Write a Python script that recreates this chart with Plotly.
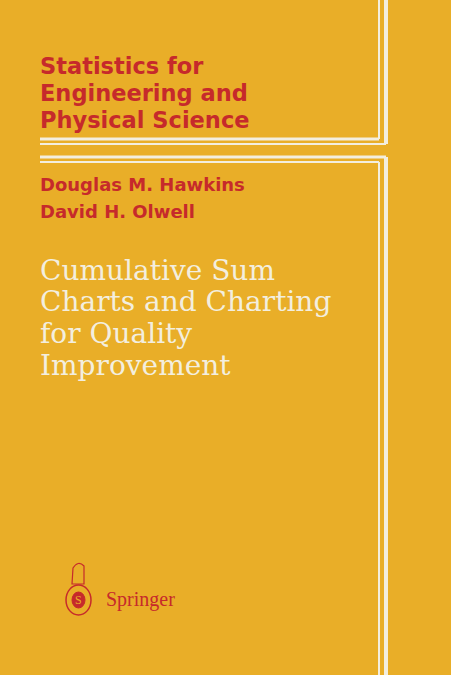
import plotly.graph_objects as go

W, H = 451, 675
BG = "#E9AE28"
RED = "#C62A2B"
CREAM = "#F3EEDF"

series_lines = ["Statistics for", "Engineering and", "Physical Science"]
series_y = [66, 93, 120]

authors = ["Douglas M. Hawkins", "David H. Olwell"]
authors_y = [184, 211]

title_lines = ["Cumulative Sum", "Charts and Charting", "for Quality", "Improvement"]
title_y = [270, 301, 333, 365]

publisher = "Springer"

fig = go.Figure()

# -----------------------
# frame lines
# -----------------------
def seg(x0, y0, x1, y1, w):
    fig.add_shape(type="line", x0=x0, y0=y0, x1=x1, y1=y1, xref="x", yref="y",
                  line=dict(color=CREAM, width=w))

seg(379, 0, 379, 139, 2)
seg(40, 139, 379, 139, 3)
seg(386, 0, 386, 144, 4)
seg(40, 144, 386, 144, 2)
seg(40, 157, 386, 157, 3)
seg(386, 157, 386, H, 4)
seg(40, 162, 379, 162, 2)
seg(379, 162, 379, H, 2)

# -----------------------
# texts
# -----------------------
for t, y in zip(series_lines, series_y):
    fig.add_annotation(x=38, y=y, text="<b>" + t + "</b>", showarrow=False,
                       xanchor="left", yanchor="middle",
                       font=dict(family="DejaVu Sans", size=22.5, color=RED))

for t, y in zip(authors, authors_y):
    fig.add_annotation(x=38, y=y, text="<b>" + t + "</b>", showarrow=False,
                       xanchor="left", yanchor="middle",
                       font=dict(family="DejaVu Sans", size=18, color=RED))

for t, y in zip(title_lines, title_y):
    fig.add_annotation(x=38, y=y, text=t, showarrow=False,
                       xanchor="left", yanchor="middle",
                       font=dict(family="DejaVu Serif", size=28, color=CREAM))

# springer logo (rough)
fig.add_shape(type="circle", x0=66, y0=585, x1=91, y1=615, xref="x", yref="y",
              line=dict(color=RED, width=1.5))
fig.add_shape(type="circle", x0=72, y0=592, x1=85, y1=608, xref="x", yref="y",
              fillcolor=RED, line=dict(color=RED, width=1))
fig.add_shape(type="path", path="M 72 584 L 73 568 Q 78 560 84 566 L 84 584 Z",
              xref="x", yref="y", line=dict(color=RED, width=1.2))
fig.add_annotation(x=78.5, y=600, text="S", showarrow=False,
                   font=dict(family="Liberation Serif", size=12, color=BG))
fig.add_annotation(x=104, y=599, text=publisher, showarrow=False,
                   xanchor="left", yanchor="middle",
                   font=dict(family="Liberation Serif", size=20, color=RED))

fig.update_xaxes(range=[0, W], visible=False, fixedrange=True)
fig.update_yaxes(range=[H, 0], visible=False, fixedrange=True)
fig.update_layout(width=W, height=H, margin=dict(l=0, r=0, t=0, b=0),
                  paper_bgcolor=BG, plot_bgcolor=BG, showlegend=False)

fig.write_html("out.html", config={"displayModeBar": False},
               post_script="document.body.style.margin='0';")
